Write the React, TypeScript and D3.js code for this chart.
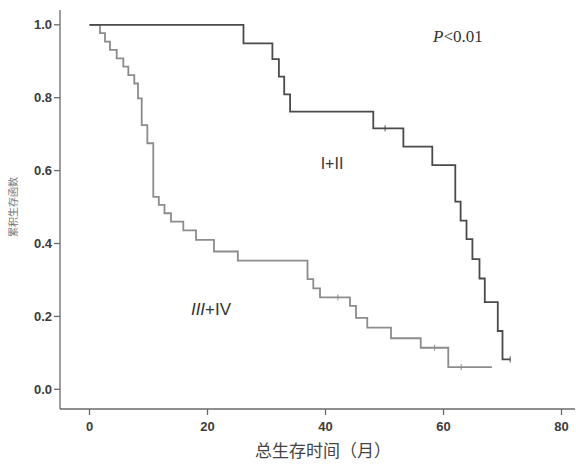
import React from "react";
import * as d3 from "d3";

// Kaplan–Meier curves
const group1Label = "I+II";
const group1Times = [0, 26.1, 31.0, 32.1, 33.0, 34.0, 48.1, 53.2, 58.1, 62.0, 62.9, 63.9, 64.9, 66.1, 67.0, 69.2, 70.0];
const group1Surv = [1.0, 0.949, 0.906, 0.858, 0.809, 0.762, 0.716, 0.666, 0.615, 0.515, 0.463, 0.412, 0.357, 0.304, 0.239, 0.160, 0.082];
const group1End = 71.3;
const group1CensorTimes = [50.1, 71.3];

const group2Label = "III+IV";
const group2Times = [0, 1.78, 2.63, 3.47, 4.61, 5.73, 6.58, 7.59, 8.22, 8.85, 9.8, 10.81, 11.75, 12.71, 13.81, 15.9, 18.05, 21.1, 25.14, 36.95, 37.93, 39.07, 44.15, 45.17, 47.08, 51.1, 56.14, 60.81];
const group2Surv = [1.0, 0.977, 0.954, 0.931, 0.908, 0.885, 0.862, 0.839, 0.798, 0.725, 0.675, 0.528, 0.506, 0.483, 0.46, 0.436, 0.41, 0.378, 0.353, 0.302, 0.277, 0.252, 0.229, 0.196, 0.169, 0.14, 0.114, 0.061];
const group2End = 68.2;
const group2CensorTimes = [42.1, 58.5, 63.0];

const xTicks = [0, 20, 40, 60, 80];
const yTicks = [0.0, 0.2, 0.4, 0.6, 0.8, 1.0];
const xTitle = "总生存时间（月）";
const yTitle = "累积生存函数";
const pText = "<0.01";

function survAt(times: number[], surv: number[], t: number) {
  let s = surv[0];
  for (let i = 0; i < times.length; i++) if (times[i] <= t) s = surv[i];
  return s;
}

export default function App() {
  const W = 576, H = 464;
  const x = d3.scaleLinear().domain([0, 80]).range([89.5, 561.5]);
  const y = d3.scaleLinear().domain([0, 1]).range([389.3, 24.8]);
  const axisLeft = 60, axisBottom = 409, axisTop = 10, axisRight = 575;

  const line = d3
    .line<[number, number]>()
    .x((d) => x(d[0]))
    .y((d) => y(d[1]))
    .curve(d3.curveStepAfter);

  const pts = (times: number[], surv: number[], end: number): [number, number][] => {
    const p: [number, number][] = times.map((t, i) => [t, surv[i]]);
    p.push([end, surv[surv.length - 1]]);
    return p;
  };

  const g1 = pts(group1Times, group1Surv, group1End);
  const g2 = pts(group2Times, group2Surv, group2End);
  const c1 = "#4a4a4a";
  const c2 = "#8c8c8c";
  const axisColor = "#6a6a6a";
  const tickFont = "'Liberation Sans', Arial, sans-serif";

  return (
    <svg width={W} height={H} style={{ position: "absolute", left: 0, top: 0, background: "#fff" }}>
      {/* axes */}
      <line x1={axisLeft} y1={axisTop} x2={axisLeft} y2={axisBottom} stroke={axisColor} strokeWidth={1.3} />
      <line x1={axisLeft} y1={axisBottom} x2={axisRight} y2={axisBottom} stroke={axisColor} strokeWidth={1.3} />
      {yTicks.map((v) => (
        <g key={"y" + v}>
          <line x1={axisLeft - 6} x2={axisLeft} y1={y(v)} y2={y(v)} stroke={axisColor} strokeWidth={1.3} />
          <text x={52} y={y(v) + 4.5} textAnchor="end" fontFamily={tickFont} fontWeight="bold" fontSize={13} fill="#3c3c3c">
            {v.toFixed(1)}
          </text>
        </g>
      ))}
      {xTicks.map((v) => (
        <g key={"x" + v}>
          <line x1={x(v)} x2={x(v)} y1={axisBottom} y2={axisBottom + 6} stroke={axisColor} strokeWidth={1.3} />
          <text x={x(v)} y={431} textAnchor="middle" fontFamily={tickFont} fontWeight="bold" fontSize={13} fill="#3c3c3c">
            {v}
          </text>
        </g>
      ))}
      <text x={323} y={457} textAnchor="middle" fontFamily="'Noto Sans CJK SC', sans-serif" fontSize={17} fill="#444">
        {xTitle}
      </text>
      <text
        transform={`translate(17, 207) rotate(-90)`}
        textAnchor="middle"
        fontFamily="'Noto Sans CJK SC', serif"
        fontSize={10}
        fill="#777"
      >
        {yTitle}
      </text>

      {/* curves */}
      <path d={line(g2) || ""} fill="none" stroke={c2} strokeWidth={1.8} />
      <path d={line(g1) || ""} fill="none" stroke={c1} strokeWidth={1.8} />
      {group2CensorTimes.map((t, i) => (
        <line key={"c2" + i} x1={x(t)} x2={x(t)} y1={y(survAt(group2Times, group2Surv, t)) - 3} y2={y(survAt(group2Times, group2Surv, t)) + 3} stroke={c2} strokeWidth={1} />
      ))}
      {group1CensorTimes.map((t, i) => (
        <line key={"c1" + i} x1={x(t)} x2={x(t)} y1={y(survAt(group1Times, group1Surv, t)) - 3} y2={y(survAt(group1Times, group1Surv, t)) + 3} stroke={c1} strokeWidth={1} />
      ))}

      {/* annotations */}
      <text x={332} y={169} textAnchor="middle" fontFamily={tickFont} fontSize={16} fill="#333">
        {group1Label}
      </text>
      <text x={211} y={315} textAnchor="middle" fontFamily={tickFont} fontSize={17} fill="#333">
        <tspan fontStyle="italic">III</tspan>
        <tspan>+IV</tspan>
      </text>
      <text x={433} y={42} fontFamily="'Liberation Serif', 'Times New Roman', serif" fontSize={17} fill="#333">
        <tspan fontStyle="italic">P</tspan>
        <tspan>{pText}</tspan>
      </text>
    </svg>
  );
}
